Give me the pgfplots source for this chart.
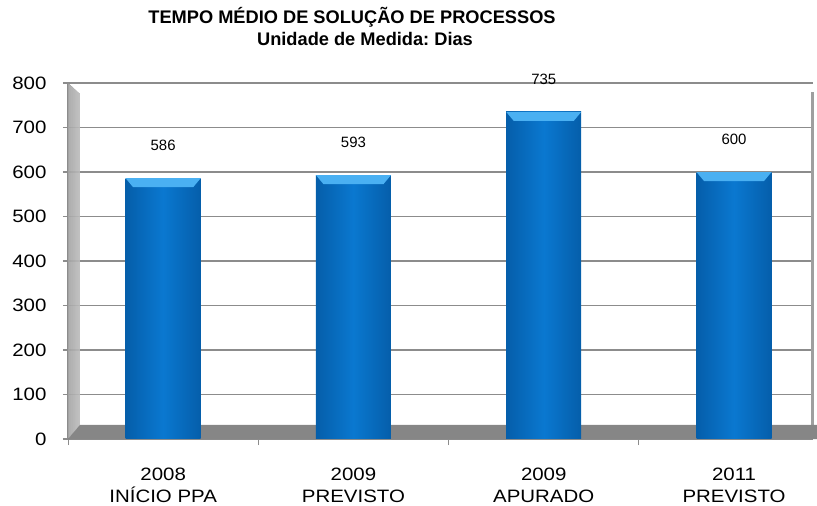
\documentclass[border=0pt]{standalone}
\usepackage{pgfplots}
\pgfplotsset{compat=1.18}
\usepackage{fontspec}
\setmainfont{Liberation Sans}
\newfontfamily\wide{Liberation Sans}[FakeStretch=1.14]

\definecolor{barmain}{HTML}{0A78D0}
\definecolor{bardark}{HTML}{055EAA}
\definecolor{bartop}{HTML}{4AB0F2}
\definecolor{floorgray}{HTML}{868686}
\definecolor{gridgray}{HTML}{8C8C8C}
\definecolor{wallgray}{HTML}{D6D6D6}

\pgfdeclareplotmark{bevel}{%
  \pgfpathmoveto{\pgfpoint{-37.5bp}{0bp}}%
  \pgfpathlineto{\pgfpoint{37.5bp}{0bp}}%
  \pgfpathlineto{\pgfpoint{30bp}{-9bp}}%
  \pgfpathlineto{\pgfpoint{-30bp}{-9bp}}%
  \pgfpathclose
  \pgfusepathqfill}

\pgfplotstableread{
x y
0 586
1 593
2 735
3 600
}\datatable

\pgfplotsset{barsty/.style={ybar, bar width=75bp, bar shift=0pt, draw=none,
  left color=bardark, right color=bardark, middle color=barmain}}

\begin{document}
\begin{tikzpicture}
\path[use as bounding box] (0,0) rectangle (817bp,506bp);
\node[anchor=base, font=\bfseries\fontsize{18.3}{20}\selectfont] at (352bp,482bp) {TEMPO MÉDIO DE SOLUÇÃO DE PROCESSOS};
\node[anchor=base, font=\bfseries\fontsize{18.3}{20}\selectfont] at (365bp,460.3bp) {Unidade de Medida:\ Dias};
\begin{axis}[
  at={(68bp,67bp)}, anchor=south west,
  scale only axis, width=745bp, height=356bp,
  xmin=-0.5, xmax=3.415, ymin=0, ymax=800,
  clip=false,
  axis x line*=bottom, axis y line*=left,
  x axis line style={draw=none},
  y axis line style={draw=gridgray, line width=1.5bp},
  ytick={0,100,...,800},
  ymajorgrids, grid style={gridgray, line width=1.2bp},
  xtick={0,1,2,3},
  xticklabels={{2008\\INÍCIO PPA},{2009\\PREVISTO},{2009\\APURADO},{2011\\PREVISTO}},
  minor xtick={-0.5,0.5,1.5,2.5},
  tick align=outside,
  major tick length=5bp, minor tick length=6bp,
  major x tick style={draw=none},
  minor x tick style={draw=gridgray, line width=1bp},
  y tick style={draw=gridgray, line width=1.2bp},
  /pgf/number format/assume math mode=true,
  yticklabel style={font=\wide\fontsize{18}{20}\selectfont, xshift=-13bp},
  xticklabel style={font=\wide\fontsize{18}{22.5}\selectfont, align=center, yshift=-20bp},
]
\fill[left color=wallgray, right color=gray!8, fill opacity=0.7] (axis cs:-0.5,0) -- (axis cs:-0.5,800) -- (axis cs:-0.437,775) -- (axis cs:-0.437,31.5) -- cycle;
\fill[gray!75] (axis cs:3.405,31.5) rectangle (axis cs:3.42,780);
\fill[floorgray] (axis cs:-0.5,0) -- (axis cs:3.436,0) -- (axis cs:3.436,31.5) -- (axis cs:-0.437,31.5) -- cycle;
\addplot[barsty] coordinates {(0,586)};
\addplot[barsty] coordinates {(1,593)};
\addplot[barsty] coordinates {(2,735)};
\addplot[barsty] coordinates {(3,600)};
\addplot[black, only marks, mark=bevel, mark options={fill=bartop, draw=none},
  nodes near coords,
  every node near coord/.append style={text=black, font=\fontsize{15}{15}\selectfont, yshift=23.6bp}]
  table[x=x, y=y] {\datatable};
\end{axis}
\end{tikzpicture}
\end{document}
